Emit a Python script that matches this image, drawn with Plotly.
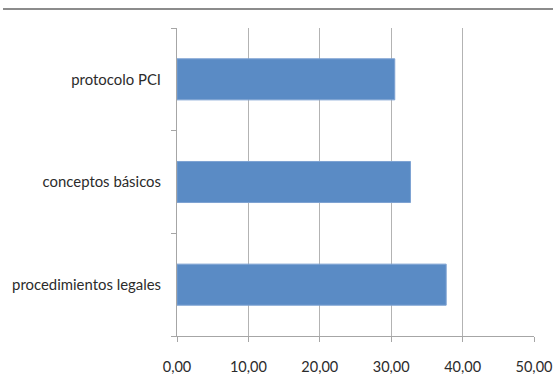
import plotly.graph_objects as go

categories = ["procedimientos legales", "conceptos básicos", "protocolo PCI"]
values = [37.7, 32.7, 30.5]
x_ticks = [0, 10, 20, 30, 40, 50]

W, H = 553, 386
L, R, T, B = 177, 19, 28, 50
pw = W - L - R
ph = H - T - B

fig = go.Figure(go.Bar(
    y=categories, x=values, orientation="h", width=0.4,
    marker=dict(color="#5a8bc5", line=dict(color="#7da2d2", width=1)),
))

font = dict(family="Lato, Open Sans, sans-serif", size=14.5, color="#2b2b2b")

fig.update_layout(
    width=W, height=H, margin=dict(l=L, r=R, t=T, b=B, autoexpand=False),
    paper_bgcolor="white", plot_bgcolor="white",
    separators=",.", showlegend=False, font=font,
    xaxis=dict(range=[0, 50], tickvals=x_ticks, tickformat=".2f",
               showgrid=True, gridcolor="#b3b3b3", gridwidth=1,
               showline=True, linecolor="#a6a6a6", linewidth=1,
               ticks="outside", ticklen=5, tickcolor="#a6a6a6",
               zeroline=False, ticklabelstandoff=13, automargin=False),
    yaxis=dict(categoryorder="array", categoryarray=categories,
               showgrid=False, showline=True, linecolor="#a6a6a6", linewidth=1,
               ticks="outside", ticklen=5, tickcolor="#a6a6a6",
               tickfont=dict(size=14.9),
               tickson="boundaries", ticklabelstandoff=12, automargin=False),
    shapes=[dict(type="line", xref="paper", yref="paper",
                 x0=(3 - L) / pw, x1=(W - L) / pw,
                 y0=(H - B - 9) / ph, y1=(H - B - 9) / ph,
                 line=dict(color="#8c8c8c", width=2))],
)

fig.write_html("out.html")
